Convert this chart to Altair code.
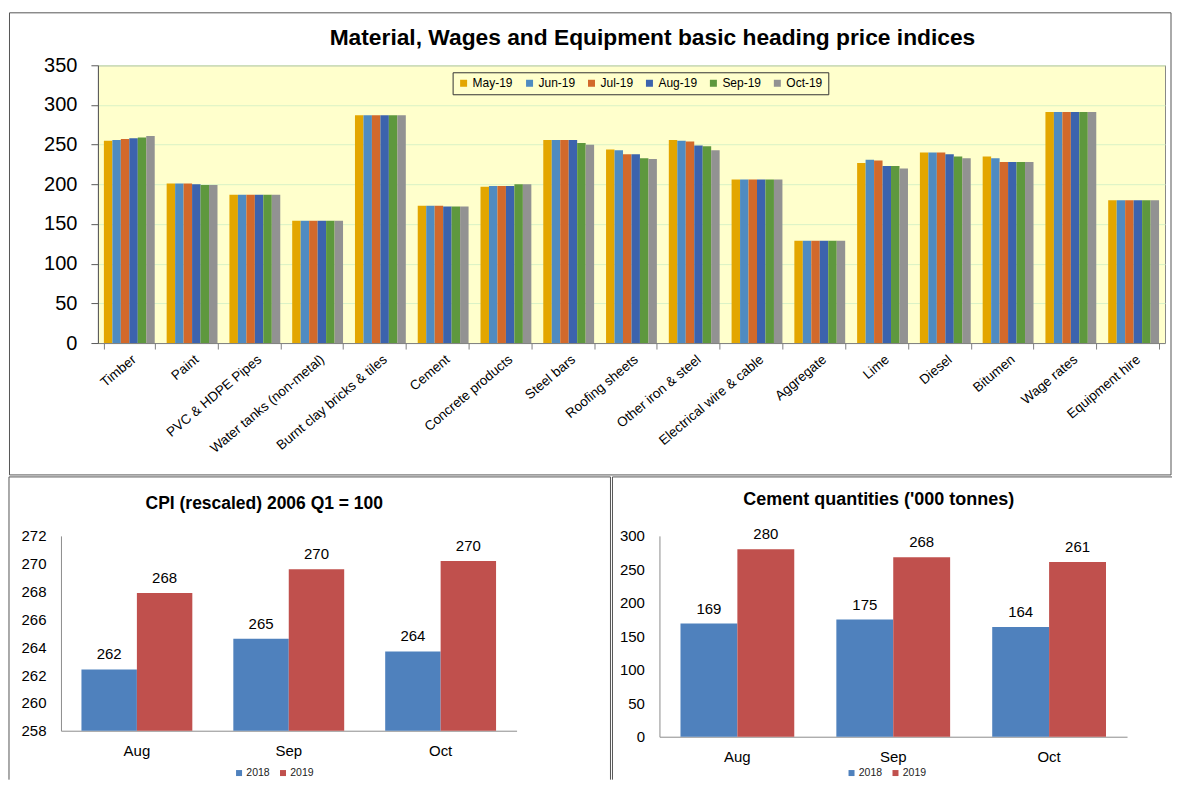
import altair as alt
import pandas as pd

# ---------------- data ----------------
categories = ["Timber", "Paint", "PVC & HDPE Pipes", "Water tanks (non-metal)",
              "Burnt clay bricks & tiles", "Cement", "Concrete products", "Steel bars",
              "Roofing sheets", "Other iron & steel", "Electrical wire & cable",
              "Aggregate", "Lime", "Diesel", "Bitumen", "Wage rates", "Equipment hire"]
months = ["May-19", "Jun-19", "Jul-19", "Aug-19", "Sep-19", "Oct-19"]
may19 = [255, 201, 187, 154, 287, 173, 197, 256, 244, 256, 206, 129, 227, 240, 235, 291, 180]
jun19 = [256, 201, 187, 154, 287, 173, 198, 256, 243, 255, 206, 129, 231, 240, 233, 291, 180]
jul19 = [257, 201, 187, 154, 287, 173, 198, 256, 238, 254, 206, 129, 230, 240, 228, 291, 180]
aug19 = [258, 200, 187, 154, 287, 172, 198, 256, 238, 249, 206, 129, 223, 238, 228, 291, 180]
sep19 = [259, 199, 187, 154, 287, 172, 200, 252, 233, 248, 206, 129, 223, 235, 228, 291, 180]
oct19 = [261, 199, 187, 154, 287, 172, 200, 250, 232, 243, 206, 129, 220, 233, 228, 291, 180]
month_colors = ["#E3A600", "#4F8BC1", "#D2692B", "#3C63AD", "#5E983E", "#929292"]
top_ticks = [0, 50, 100, 150, 200, 250, 300, 350]
top_title = "Material, Wages and Equipment basic heading price indices"

bottom_months = ["Aug", "Sep", "Oct"]
years = ["2018", "2019"]
year_colors = ["#4F81BD", "#C0504D"]
cpi_2018 = [262.4, 264.6, 263.7]
cpi_2019 = [267.9, 269.6, 270.2]
cpi_ticks = [258, 260, 262, 264, 266, 268, 270, 272]
cpi_title = "CPI (rescaled) 2006 Q1 = 100"
cem_2018 = [169, 175, 164]
cem_2019 = [280, 268, 261]
cem_ticks = [0, 50, 100, 150, 200, 250, 300]
cem_title = "Cement quantities ('000 tonnes)"

FONT = "Liberation Sans"
FRAME = "#555555"

# ---------------- tables ----------------
rows = []
for m, vals in zip(months, [may19, jun19, jul19, aug19, sep19, oct19]):
    for c, v in zip(categories, vals):
        rows.append({"cat": c, "month": m, "value": v})
df_top = pd.DataFrame(rows)

df_cpi = pd.DataFrame({"month": bottom_months * 2,
                       "year": [years[0]] * 3 + [years[1]] * 3,
                       "value": cpi_2018 + cpi_2019})
df_cem = pd.DataFrame({"month": bottom_months * 2,
                       "year": [years[0]] * 3 + [years[1]] * 3,
                       "value": cem_2018 + cem_2019})
one = pd.DataFrame({"k": [0]})


def title_text(text, x, y, size):
    return alt.Chart(one).mark_text(fontSize=size, font=FONT, fontWeight="bold",
                                    color="black", align="center",
                                    baseline="alphabetic").encode(
        x=alt.value(x), y=alt.value(y), text=alt.value(text))


def rule(x, y, x2=None, y2=None):
    enc = {"x": alt.value(x), "y": alt.value(y)}
    if x2 is not None:
        enc["x2"] = alt.value(x2)
    if y2 is not None:
        enc["y2"] = alt.value(y2)
    return alt.Chart(one).mark_rule(color=FRAME, strokeWidth=1).encode(**enc)


# ---------------- top chart ----------------
TW, TH = 1068, 278

top_frame = alt.Chart(one).mark_rect(fill="transparent", stroke=FRAME, strokeWidth=1).encode(
    x=alt.value(-88.5), x2=alt.value(1074), y=alt.value(-52.5), y2=alt.value(410))

top_bars = alt.Chart(df_top).mark_bar().encode(
    x=alt.X("cat:N", sort=categories, title=None,
            scale=alt.Scale(paddingInner=0.19, paddingOuter=0.095),
            axis=alt.Axis(labelAngle=-40, labelAlign="right", labelBaseline="top",
                          labelFontSize=13.5, labelFont=FONT, labelColor="black",
                          labelPadding=3, tickBand="extent", tickSize=6,
                          tickColor="#808080", domainColor="#808080", labelLimit=300)),
    xOffset=alt.XOffset("month:N", sort=months,
                        scale=alt.Scale(paddingInner=0, paddingOuter=0)),
    y=alt.Y("value:Q", title=None, scale=alt.Scale(domain=[0, 350]),
            axis=alt.Axis(values=top_ticks, labelFontSize=20, labelFont=FONT,
                          labelColor="black", labelPadding=14, tickSize=7,
                          tickColor="#595959", domainColor="#595959",
                          labelOverlap=False,
                          grid=True, gridColor="#d9f2c6")),
    color=alt.Color("month:N", sort=months,
                    scale=alt.Scale(domain=months, range=month_colors),
                    legend=alt.Legend(title=None, orient="none", legendX=355, legendY=7,
                                      direction="horizontal", fillColor="#FFFFCC",
                                      strokeColor="#333333", padding=5,
                                      symbolType="square", symbolSize=49,
                                      symbolStrokeWidth=0, labelFontSize=12,
                                      labelFont=FONT, labelColor="black",
                                      columnPadding=10, labelOffset=3)),
)

top = alt.layer(top_frame, top_bars, title_text(top_title, TW / 2 + 21, -20, 22.8)).properties(
    width=TW, height=TH,
    view=alt.ViewBackground(fill="#FFFFCC", stroke="#888888"),
)


# ---------------- bottom charts ----------------
def bottom_chart(df, ticks, domain, width, height, x_range, y_axis_offset, ttl, title_size,
                 title_x, title_y, leg_x, leg_y, frame_rules):
    x_scale = alt.Scale(paddingInner=0.27, paddingOuter=0.135)
    if x_range is not None:
        x_scale = alt.Scale(paddingInner=0.27, paddingOuter=0.135, range=x_range)
    y_axis = alt.Axis(values=ticks, grid=False, ticks=False, labelFontSize=15,
                      labelFont=FONT, labelColor="black", labelPadding=15,
                      labelOverlap=False, domainColor="#8c8c8c",
                      offset=y_axis_offset)
    y_scale = alt.Scale(domain=domain, zero=False)
    base = alt.Chart(df).encode(
        x=alt.X("month:N", sort=bottom_months, title=None, scale=x_scale,
                axis=alt.Axis(labelAngle=0, labelFontSize=15, labelFont=FONT,
                              labelColor="black", labelPadding=13, ticks=False,
                              domainColor="#8c8c8c")),
        xOffset=alt.XOffset("year:N", sort=years,
                            scale=alt.Scale(paddingInner=0, paddingOuter=0)),
    )
    bars = base.mark_bar().encode(
        y=alt.Y("value:Q", title=None, scale=y_scale, axis=y_axis),
        y2=alt.datum(domain[0]),
        color=alt.Color("year:N", sort=years,
                        scale=alt.Scale(domain=years, range=year_colors),
                        legend=alt.Legend(title=None, orient="none", legendX=leg_x,
                                          legendY=leg_y, direction="horizontal",
                                          symbolType="square", symbolSize=36,
                                          symbolStrokeWidth=0, labelFontSize=10.5,
                                          labelFont=FONT, labelColor="#222222",
                                          columnPadding=8, labelOffset=2, padding=0)),
    )
    labels = base.mark_text(baseline="bottom", dy=-7, fontSize=15, font=FONT,
                            color="black").encode(
        y=alt.Y("value:Q", title=None, scale=y_scale, axis=y_axis),
        text=alt.Text("value:Q", format=".0f"),
    )
    layers = list(frame_rules) + [bars, labels, title_text(ttl, title_x, title_y, title_size)]
    return alt.layer(*layers).properties(
        width=width, height=height,
        view=alt.ViewBackground(fill="white", stroke="transparent"),
    )


# CPI chart: origin shares the top chart's left edge, plot drawn 37px further left
cpi_rules = [rule(-89, -59, y2=244), rule(-89, -59, x2=513), rule(513, -59, y2=244)]
cpi_chart = bottom_chart(df_cpi, cpi_ticks, [258, 272], 419, 195, [-37, 419], 37,
                         cpi_title, 17.5, 166.5, -27, 136, 232, cpi_rules)

cem_rules = [rule(-47, -59, y2=244), rule(-47, -59, x2=513)]
cem_chart = bottom_chart(df_cem, cem_ticks, [0, 300], 468, 201, None, 0,
                         cem_title, 18, 219.5, -31, 187, 232, cem_rules)

bottom = alt.concat(cpi_chart, cem_chart, columns=2, spacing=0).resolve_scale(
    color="independent", xOffset="independent", x="independent", y="independent"
).resolve_legend(color="independent")

chart = alt.concat(top, bottom, columns=1, spacing=0).resolve_scale(
    color="independent", xOffset="independent", x="independent", y="independent"
).resolve_legend(color="independent").properties(
    padding={"left": 0, "top": 3, "right": 0, "bottom": 0},
    background="white",
).configure(font=FONT)

chart.save("out.html", embed_options={"renderer": "svg", "actions": False})
